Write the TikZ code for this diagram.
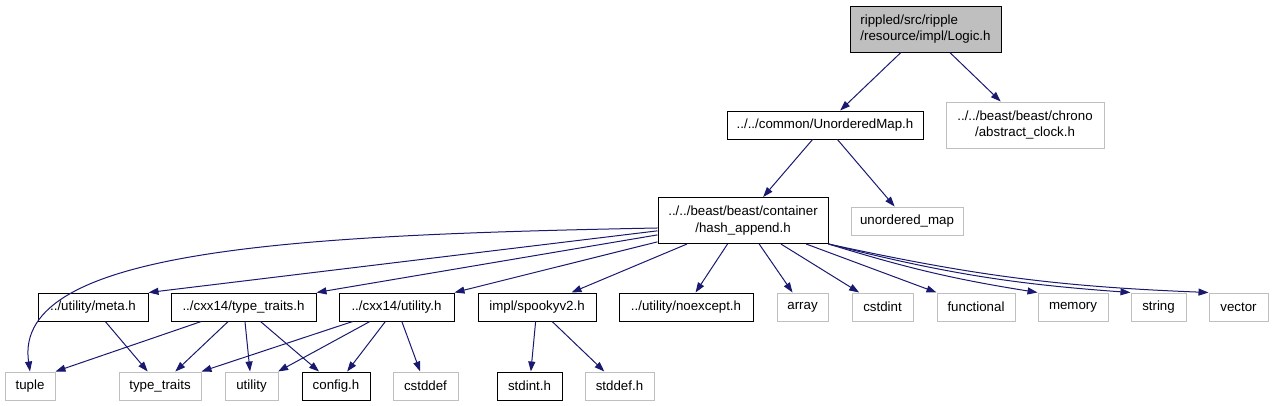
\documentclass[tikz,border=0pt]{standalone}
\usepackage{fontspec}
\setmainfont{Liberation Sans}
\usetikzlibrary{arrows.meta}

\definecolor{edgeblue}{RGB}{25,25,112}
\definecolor{sysgray}{RGB}{191,191,191}

\begin{document}
\begin{tikzpicture}[x=1pt, y=-1pt,
    hdr/.style={draw=black, line width=1pt, inner sep=0pt, minimum height=28pt,
      font=\fontsize{13.3}{16.5}\selectfont},
    sys/.style={hdr, draw=sysgray},
    incl/.style={draw=edgeblue, line width=1pt, -{Triangle[length=10pt, width=7pt]}}]
    \useasboundingbox (0,0) rectangle (1273,405);

    % top levels
    \node[hdr, fill=sysgray, minimum width=151pt, minimum height=46pt, align=left] (logic) at (925.5, 29) {rippled/src/ripple\\/resource/impl/Logic.h};
    \node[hdr, minimum width=196pt] (umap) at (825, 125) {../../common/UnorderedMap.h};
    \node[sys, minimum width=158pt, minimum height=46pt, align=center] (clock) at (1025, 125) {../../beast/beast/chrono\\/abstract\_clock.h};
    \node[hdr, minimum width=170pt, minimum height=46pt, align=center] (hash) at (743, 220.5) {../../beast/beast/container\\/hash\_append.h};
    \node[sys, minimum width=112pt] (unmap) at (907, 221) {unordered\_map};

    % row 3
    \node[hdr, minimum width=110pt] (meta) at (93, 307) {../utility/meta.h};
    \node[hdr, minimum width=145pt] (cxxtt) at (243.5, 307) {../cxx14/type\_traits.h};
    \node[hdr, minimum width=115pt] (cxxutil) at (396.5, 307) {../cxx14/utility.h};
    \node[hdr, minimum width=118pt] (spooky) at (537, 307) {impl/spookyv2.h};
    \node[hdr, minimum width=134pt] (noexc) at (686, 307) {../utility/noexcept.h};
    \node[sys, minimum width=51pt] (array) at (802.5, 307) {array};
    \node[sys, minimum width=61pt] (cstdint) at (882.5, 307) {cstdint};
    \node[sys, minimum width=78pt] (functional) at (976, 307) {functional};
    \node[sys, minimum width=70pt] (memory) at (1073, 307) {memory};
    \node[sys, minimum width=55pt] (string) at (1158.5, 307) {string};
    \node[sys, minimum width=59pt] (vector) at (1238.5, 307) {vector};

    % row 4
    \node[sys, minimum width=50pt] (tuple) at (30, 386) {tuple};
    \node[sys, minimum width=82pt] (traits) at (160, 386) {type\_traits};
    \node[sys, minimum width=53pt] (utility) at (251.5, 386) {utility};
    \node[hdr, minimum width=68pt] (config) at (336, 386) {config.h};
    \node[sys, minimum width=65pt] (cstddef) at (425.5, 386) {cstddef};
    \node[hdr, minimum width=65pt] (stdint) at (529.5, 386) {stdint.h};
    \node[sys, minimum width=69pt] (stddef) at (619.5, 386) {stddef.h};

    % includes
    \draw[incl] (logic) -- (umap);
    \draw[incl] (logic) -- (clock);
    \draw[incl] (umap) -- (hash);
    \draw[incl] (umap) -- (unmap);

    \draw[incl] (hash.185) .. controls (300,235) and (12,248) .. (tuple.north);
    \draw[incl] (hash) -- (meta.north east);
    \draw[incl] (hash) -- (cxxtt.north east);
    \draw[incl] (hash) -- (cxxutil.north east);
    \draw[incl] (hash) -- (spooky);
    \draw[incl] (hash) -- (noexc);
    \draw[incl] (hash) -- (array);
    \draw[incl] (hash) -- (cstdint);
    \draw[incl] (hash) -- (functional.north west);
    \draw[incl] (hash.south east) to[bend right=4] (memory.north west);
    \draw[incl] (hash.south east) to[bend right=5] (string.north west);
    \draw[incl] (hash.south east) to[bend right=5] (vector.north west);

    \draw[incl] (meta) -- (traits);
    \draw[incl] (cxxtt) -- (tuple.north east);
    \draw[incl] (cxxtt) -- (traits);
    \draw[incl] (cxxtt) -- (utility);
    \draw[incl] (cxxtt) -- (config);
    \draw[incl] (cxxutil) -- (traits.north east);
    \draw[incl] (cxxutil) -- (utility);
    \draw[incl] (cxxutil) -- (config);
    \draw[incl] (cxxutil) -- (cstddef);
    \draw[incl] (spooky) -- (stdint);
    \draw[incl] (spooky) -- (stddef);
\end{tikzpicture}
\end{document}
